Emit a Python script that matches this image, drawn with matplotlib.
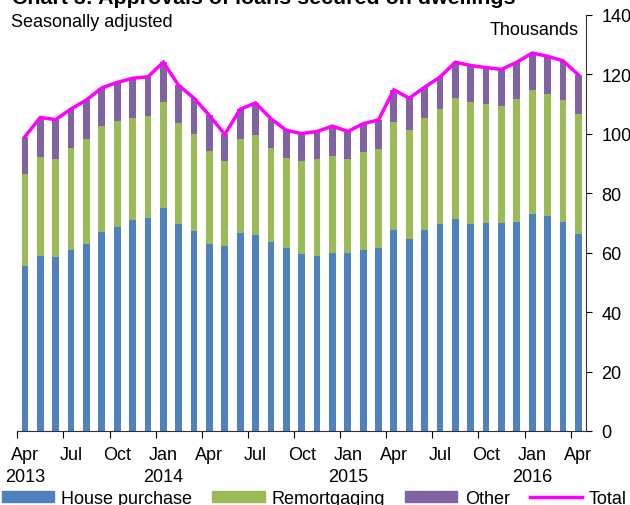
import numpy as np
import matplotlib
matplotlib.use('Agg')
import matplotlib.pyplot as plt
from matplotlib.patches import Patch
from matplotlib.lines import Line2D

plt.rcParams['font.family'] = ['Liberation Sans', 'DejaVu Sans']

# Monthly data, Apr 2013 - Apr 2016 (thousands)
house_purchase = [55.4, 59.0, 58.5, 61.0, 63.1, 67.1, 68.8, 71.0, 71.7, 74.9,
                  69.5, 67.4, 63.0, 62.1, 66.8, 65.8, 63.5, 61.6, 59.7, 59.0,
                  60.0, 60.0, 61.0, 61.7, 67.8, 64.6, 67.8, 69.5, 71.5, 69.5,
                  70.1, 70.1, 70.4, 73.1, 72.4, 70.4, 66.2]
remortgaging = [31.2, 33.1, 32.9, 34.3, 35.3, 35.6, 35.6, 34.5, 34.4, 35.9,
                34.2, 32.7, 31.3, 28.8, 31.6, 33.8, 31.8, 30.2, 31.2, 32.4,
                32.7, 31.6, 32.9, 33.2, 36.2, 36.7, 37.5, 38.9, 40.7, 41.3,
                39.9, 39.4, 41.4, 41.7, 40.9, 41.0, 40.4]
other = [12.5, 13.4, 13.4, 13.1, 13.0, 12.8, 12.9, 13.2, 13.1, 13.3,
         12.6, 11.9, 11.9, 8.9, 9.9, 10.8, 9.8, 9.4, 9.2, 9.4,
         9.9, 9.2, 9.5, 9.8, 10.8, 10.7, 10.4, 10.7, 11.9, 12.2,
         12.3, 12.2, 12.3, 12.4, 12.8, 13.2, 13.3]
tick_labels = ['Apr\n2013', 'Jul', 'Oct', 'Jan\n2014', 'Apr', 'Jul', 'Oct',
               'Jan\n2015', 'Apr', 'Jul', 'Oct', 'Jan\n2016', 'Apr']

blue = '#4F81BD'
green = '#9BBB59'
purple = '#8064A2'
magenta = '#FF00FF'

hp = np.array(house_purchase)
rm = np.array(remortgaging)
ot = np.array(other)
total = hp + rm + ot
x = np.arange(len(hp))

fig = plt.figure(figsize=(6.3, 5.06), dpi=100)
ax = fig.add_axes([17.3 / 630, 74 / 506, 568.7 / 630, 416 / 506])

w = 0.44
ax.bar(x, hp, w, color=blue, zorder=2)
ax.bar(x, rm, w, bottom=hp, color=green, zorder=2)
ax.bar(x, ot, w, bottom=hp + rm, color=purple, zorder=2)
ax.plot(x, total, color=magenta, lw=2.5, zorder=3, solid_joinstyle='miter')

ax.set_xlim(-0.5, len(x) - 0.5)
ax.set_ylim(0, 140)

# y axis on the right
ax.yaxis.tick_right()
ax.set_yticks(np.arange(0, 141, 20))
ax.tick_params(axis='y', direction='out', length=4, width=0.8, pad=7,
               labelsize=13, colors='black')

# x axis: ticks at quarter boundaries, labels at bar centres
ax.set_xticks(np.arange(-0.5, len(x) - 0.5, 3))
ax.set_xticklabels([])
ax.set_xticks(np.arange(0, len(x), 3), minor=True)
ax.set_xticklabels(tick_labels, minor=True, fontsize=13, linespacing=1.4)
ax.tick_params(axis='x', which='major', direction='out', length=5, width=0.8)
ax.tick_params(axis='x', which='minor', length=0, pad=11)

for s in ['left', 'top']:
    ax.spines[s].set_visible(False)
for s in ['right', 'bottom']:
    ax.spines[s].set_linewidth(0.8)
    ax.spines[s].set_color('#333333')

# titles
fig.text(12 / 630, 1 - 4.5 / 506, 'Chart 3: Approvals of loans secured on dwellings',
         fontsize=15.4, fontweight='bold', ha='left', va='baseline')
fig.text(11 / 630, 1 - 27 / 506, 'Seasonally adjusted', fontsize=13,
         ha='left', va='baseline')
fig.text(579 / 630, 1 - 35 / 506, 'Thousands', fontsize=13,
         ha='right', va='baseline')

handles = [Patch(color=blue), Patch(color=green), Patch(color=purple),
           Line2D([], [], color=magenta, lw=2.5)]
fig.legend(handles, ['House purchase', 'Remortgaging', 'Other', 'Total'],
           ncol=4, frameon=False, fontsize=13, loc='center left',
           bbox_to_anchor=(1.7 / 630, 1 - 499.5 / 506), borderpad=0,
           borderaxespad=0, handlelength=2.9, handleheight=0.55,
           handletextpad=0.4, columnspacing=1.1)

fig.savefig('out.png', dpi=100)
